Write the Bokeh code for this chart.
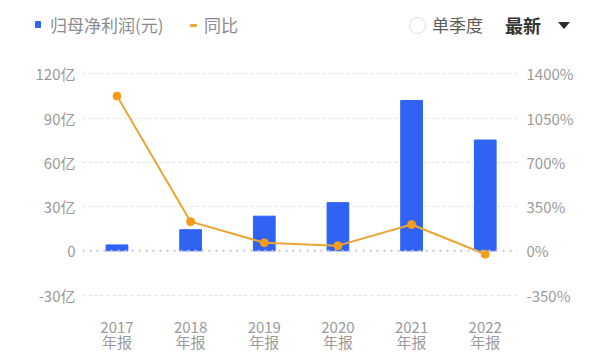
from bokeh.plotting import figure
from bokeh.layouts import column
from bokeh.models import (ColumnDataSource, Range1d, LinearAxis, FixedTicker, Span, Div)
from bokeh.embed import file_html
from bokeh.resources import INLINE

# ---- data ----
years = ["2017", "2018", "2019", "2020", "2021", "2022"]
period = "年报"
profit_yi = [4.0, 14.3, 23.5, 32.7, 102.0, 75.2]          # 亿元
yoy_pct = [1225, 231, 64, 41, 208, -27]                    # %
left_ticks = [-30, 0, 30, 60, 90, 120]
left_tick_labels = ["-30亿", "0", "30亿", "60亿", "90亿", "120亿"]
right_ticks = [-350, 0, 350, 700, 1050, 1400]
right_tick_labels = ["-350%", "0%", "350%", "700%", "1050%", "1400%"]
legend_bar = "归母净利润(元)"
legend_line = "同比"
opt_quarter = "单季度"
opt_latest = "最新"

BLUE = "#3063f4"
ORANGE_LINE = "#eba534"
ORANGE_PT = "#f59c1a"
GREY = "#9a9a9a"
FONT = "Noto Sans CJK SC"
W = 600

idx = list(range(len(years)))
src = ColumnDataSource(dict(x=idx, profit=profit_yi, yoy=yoy_pct))

# ---------------- header (legend + controls) ----------------
def box(left, top, w, h, style):
    return (f'<div style="position:absolute;left:{left}px;top:{top}px;width:{w}px;'
            f'height:{h}px;{style}"></div>')


def txt(left, top, s, style):
    return (f'<span style="position:absolute;left:{left}px;top:{top}px;white-space:nowrap;'
            f'line-height:18px;font-family:\'{FONT}\';{style}">{s}</span>')


header_html = (
    f'<div style="position:relative;width:{W}px;height:48px;">'
    + box(35, 21, 6, 7, f"background:{BLUE};border-radius:1px;")
    + txt(50, 16, legend_bar, "font-size:17px;color:#8c8c8c;")
    + box(190, 24, 7, 3, f"background:{ORANGE_LINE};border-radius:1px;")
    + txt(204, 16, legend_line, "font-size:17px;color:#8c8c8c;")
    + box(409, 17, 17, 17, "border:1px solid #dddddd;border-radius:50%;background:#fff;")
    + txt(432, 16, opt_quarter, "font-size:17px;color:#5a5a5a;")
    + txt(505, 16, opt_latest, "font-size:18px;font-weight:bold;color:#333333;")
    + '<div style="position:absolute;left:558px;top:22px;width:0;height:0;'
      'border-left:6px solid transparent;border-right:6px solid transparent;'
      'border-top:7px solid #2a2a2a;"></div>'
    + '</div>'
)
h = Div(text=header_html, width=W, height=48, margin=0)

# ---------------- main chart ----------------
p = figure(width=W, height=306, output_backend="svg", toolbar_location=None,
           x_range=Range1d(-0.468, 5.438), y_range=Range1d(-31, 121),
           min_border_left=82, min_border_right=83, min_border_top=24, min_border_bottom=57)
p.outline_line_color = None
p.background_fill_color = "white"
p.border_fill_color = "white"
p.extra_y_ranges = {"pct": Range1d(-31 * 350 / 30, 121 * 350 / 30)}

p.xgrid.visible = False
p.ygrid.ticker = FixedTicker(ticks=[t for t in left_ticks if t != 0])
p.ygrid.grid_line_color = "#e2e2e2"
p.ygrid.grid_line_dash = "3 3"
p.ygrid.grid_line_width = 1
p.add_layout(Span(location=0, dimension="width", line_color="#c4c4c4",
                  line_dash="2 5", line_width=2))

p.vbar(x="x", top="profit", bottom=0, width=0.295, source=src, color=BLUE)
p.line(x="x", y="yoy", source=src, y_range_name="pct", color=ORANGE_LINE, line_width=2)
p.scatter(x="x", y="yoy", source=src, y_range_name="pct", size=8,
          fill_color=ORANGE_PT, line_color=ORANGE_PT)


def style_axis(ax, standoff):
    ax.axis_line_color = None
    ax.major_tick_line_color = None
    ax.minor_tick_line_color = None
    ax.major_tick_out = 0
    ax.major_tick_in = 0
    ax.major_label_text_color = GREY
    ax.major_label_text_font = FONT
    ax.major_label_text_font_size = "15px"
    ax.major_label_standoff = standoff


la = p.yaxis[0]
la.ticker = FixedTicker(ticks=left_ticks)
la.major_label_overrides = {t: l for t, l in zip(left_ticks, left_tick_labels)}
style_axis(la, 7)

ra = LinearAxis(y_range_name="pct", ticker=FixedTicker(ticks=right_ticks))
ra.major_label_overrides = {t: l for t, l in zip(right_ticks, right_tick_labels)}
style_axis(ra, 9)
p.add_layout(ra, "right")

xa = p.xaxis[0]
xa.ticker = FixedTicker(ticks=idx)
xa.major_label_overrides = {i: y for i, y in zip(idx, years)}
style_axis(xa, 25)

xa2 = LinearAxis(ticker=FixedTicker(ticks=idx))
xa2.major_label_overrides = {i: period for i in idx}
style_axis(xa2, -5)
p.add_layout(xa2, "below")

open("out.html", "w").write(file_html(column(h, p, spacing=0), INLINE))
